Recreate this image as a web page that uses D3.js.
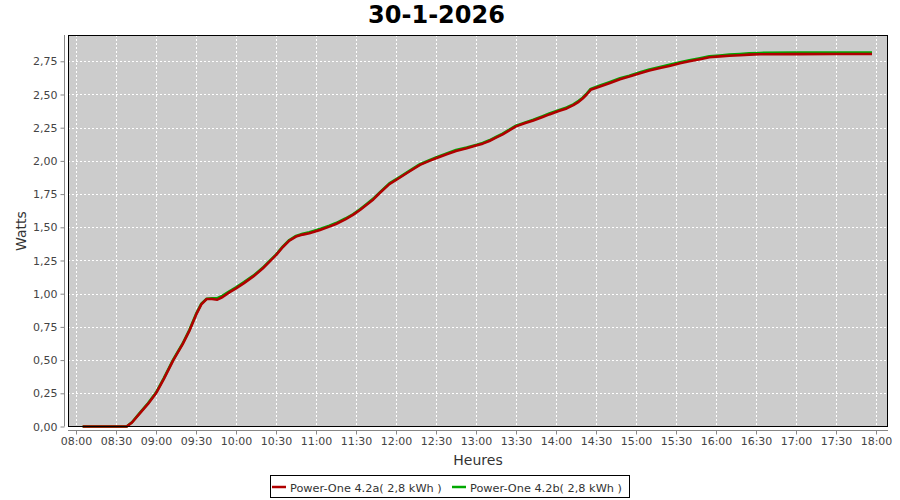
<!DOCTYPE html>
<html><head><meta charset="utf-8">
<script src="https://cdn.jsdelivr.net/npm/d3@7"></script>
<style>
body{margin:0;background:#fff;}
svg text{font-family:"DejaVu Sans",sans-serif;}
</style></head>
<body><svg id="c" width="900" height="500"></svg>
<script>
const title = "30-1-2026";
const yLabel = "Watts";
const xLabel = "Heures";
const seriesNames = ["Power-One 4.2a( 2,8 kWh )", "Power-One 4.2b( 2,8 kWh )"];
const seriesColors = ["#b00000", "#00a800"];
const xTickLabels = ["08:00","08:30","09:00","09:30","10:00","10:30","11:00","11:30","12:00","12:30","13:00","13:30","14:00","14:30","15:00","15:30","16:00","16:30","17:00","17:30","18:00"];
const yTicks = [0,0.25,0.5,0.75,1,1.25,1.5,1.75,2,2.25,2.5,2.75];
const times = ["08:05","08:38","08:42","08:48","08:54","09:00","09:06","09:13","09:20","09:25","09:30","09:34","09:38","09:42","09:46","09:50","09:55","10:00","10:06","10:13","10:20","10:25","10:30","10:35","10:40","10:45","10:50","10:55","11:03","11:10","11:15","11:22","11:28","11:33","11:38","11:43","11:48","11:55","12:03","12:10","12:18","12:25","12:30","12:38","12:45","12:53","13:00","13:05","13:10","13:15","13:20","13:25","13:30","13:37","13:43","13:50","13:55","14:02","14:08","14:13","14:17","14:20","14:23","14:26","14:33","14:40","14:48","14:55","15:03","15:10","15:18","15:25","15:33","15:40","15:48","15:55","16:03","16:10","16:18","16:25","16:33","17:00","17:30","17:57"];
const seriesA = [0,0,0.03,0.10,0.17,0.25,0.36,0.50,0.62,0.72,0.84,0.92,0.96,0.96,0.955,0.975,1.01,1.04,1.08,1.13,1.19,1.24,1.29,1.35,1.40,1.43,1.445,1.455,1.48,1.505,1.525,1.56,1.595,1.63,1.67,1.71,1.76,1.825,1.875,1.92,1.97,2.00,2.02,2.05,2.075,2.095,2.115,2.13,2.15,2.175,2.20,2.23,2.26,2.285,2.305,2.33,2.35,2.375,2.395,2.42,2.445,2.47,2.50,2.535,2.56,2.585,2.615,2.635,2.66,2.68,2.70,2.715,2.735,2.75,2.765,2.78,2.787,2.792,2.796,2.80,2.803,2.804,2.805,2.805];
const seriesB = [0,0,0.032,0.104,0.175,0.255,0.366,0.505,0.625,0.726,0.846,0.925,0.962,0.965,0.966,0.985,1.018,1.047,1.087,1.136,1.195,1.245,1.294,1.354,1.404,1.435,1.452,1.462,1.487,1.512,1.532,1.566,1.6,1.636,1.676,1.716,1.765,1.83,1.88,1.925,1.975,2.005,2.025,2.056,2.082,2.1,2.12,2.135,2.155,2.18,2.206,2.236,2.265,2.29,2.31,2.337,2.357,2.382,2.402,2.426,2.452,2.476,2.507,2.542,2.567,2.592,2.622,2.642,2.667,2.688,2.707,2.723,2.743,2.757,2.773,2.787,2.794,2.8,2.805,2.81,2.813,2.815,2.815,2.815];

const parse = d3.timeParse("%H:%M");
const svg = d3.select("#c");
const L = 68, R = 888, T = 35, B = 426.5;

const x = d3.scaleTime().domain([parse("07:54"), parse("18:09")]).range([L, R]);
const y = d3.scaleLinear().domain([0, 2.948]).range([B, T]);

svg.append("rect").attr("x", L).attr("y", T).attr("width", R - L).attr("height", B - T).attr("fill", "#cccccc");

const xTickDates = xTickLabels.map(parse);
svg.append("g").selectAll("line").data(xTickDates).join("line")
  .attr("x1", d => Math.round(x(d)) + 0.5).attr("x2", d => Math.round(x(d)) + 0.5)
  .attr("y1", T).attr("y2", B)
  .attr("stroke", "#fff").attr("stroke-width", 1).attr("stroke-dasharray", "2,2");
svg.append("g").selectAll("line").data(yTicks).join("line")
  .attr("y1", d => Math.round(y(d)) + 0.5).attr("y2", d => Math.round(y(d)) + 0.5)
  .attr("x1", L).attr("x2", R)
  .attr("stroke", "#fff").attr("stroke-width", 1).attr("stroke-dasharray", "2,2");

const line = d3.line().x((d, i) => x(parse(times[i]))).y(d => y(d));
[seriesB, seriesA].forEach((s, k) => {
  svg.append("path").datum(s).attr("d", line)
    .attr("fill", "none").attr("stroke", k === 0 ? seriesColors[1] : seriesColors[0])
    .attr("stroke-width", 2.6).attr("stroke-linejoin", "round");
});

svg.append("rect").attr("x", L + 0.5).attr("y", T + 0.5).attr("width", R - L - 1).attr("height", B - T - 0.5)
  .attr("fill", "none").attr("stroke", "#000").attr("stroke-width", 1);

const fmt = d3.format(".2f");
const yAxis = d3.axisLeft(y).tickValues(yTicks).tickSize(4).tickSizeOuter(0).tickPadding(3)
  .tickFormat(d => fmt(d).replace(".", ","));
const gy = svg.append("g").attr("transform", "translate(64.5,0)").call(yAxis);
const xAxis = d3.axisBottom(x).tickValues(xTickDates).tickSize(4).tickSizeOuter(0).tickPadding(3)
  .tickFormat(d3.timeFormat("%H:%M"));
const gx = svg.append("g").attr("transform", "translate(0,430.5)").call(xAxis);
[gx, gy].forEach(g => {
  g.select(".domain").attr("stroke", "#888");
  g.selectAll(".tick line").attr("stroke", "#888");
  g.selectAll(".tick text").attr("fill", "#444").style("font-size", "11px").style("font-family", "DejaVu Sans");
});
gy.select(".domain").attr("d", `M0,${T}V${B}`);
gx.select(".domain").attr("d", `M${L},0H${R}`);

svg.append("text").attr("x", 436.5).attr("y", 23).attr("text-anchor", "middle")
  .style("font-size", "24px").style("font-weight", "bold").attr("fill", "#000").text(title);
svg.append("text").attr("transform", "translate(26,231) rotate(-90)").attr("text-anchor", "middle")
  .style("font-size", "14px").attr("fill", "#333").text(yLabel);
svg.append("text").attr("x", 478).attr("y", 465).attr("text-anchor", "middle")
  .style("font-size", "14px").attr("fill", "#333").text(xLabel);

const lg = svg.append("g");
lg.append("rect").attr("x", 270.5).attr("y", 475.5).attr("width", 359).attr("height", 22)
  .attr("fill", "#fff").attr("stroke", "#000");
const legX = [272, 452];
seriesNames.forEach((n, i) => {
  lg.append("line").attr("x1", legX[i]).attr("x2", legX[i] + 14).attr("y1", 487).attr("y2", 487)
    .attr("stroke", seriesColors[i]).attr("stroke-width", 2.5);
  lg.append("text").attr("x", legX[i] + 18).attr("y", 491.5).style("font-size", "11.3px").attr("fill", "#333")
    .text(n);
});
</script></body></html>
